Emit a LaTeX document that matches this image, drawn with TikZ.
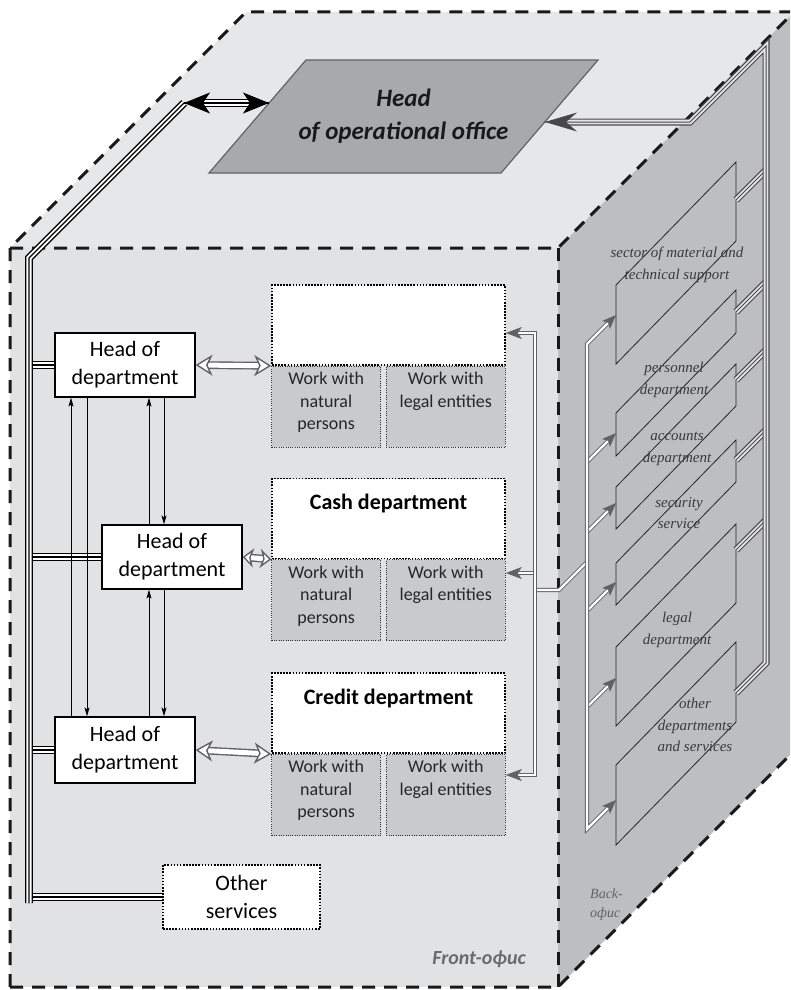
\documentclass[tikz,border=0pt]{standalone}
\usepackage{fontspec}
\setmainfont{Carlito}
\newfontfamily\timesfont{Liberation Serif}
\usetikzlibrary{arrows.meta, positioning}

\definecolor{topgray}{RGB}{230,231,232}
\definecolor{frontgray}{RGB}{225,226,228}
\definecolor{sidegray}{RGB}{189,190,193}
\definecolor{workgray}{RGB}{201,202,205}
\definecolor{headgray}{RGB}{167,169,172}
\definecolor{linegray}{RGB}{98,98,101}
\definecolor{busgray}{RGB}{72,72,74}
\definecolor{textgray}{RGB}{58,58,60}

\begin{document}
\begin{tikzpicture}[x=1pt, y=-1pt,
  head node/.style={rectangle, draw, fill=white, line width=1.2pt, minimum width=140pt, minimum height=64pt, align=center, font=\fontsize{22}{28}\selectfont},
  dept node/.style={rectangle, draw, fill=white, line width=1.6pt, dash pattern=on 1.6pt off 1.5pt, minimum width=233pt, minimum height=80pt},
  work node/.style={rectangle, draw=black!80, fill=workgray, line width=1pt, dash pattern=on 1pt off 1.3pt, minimum height=81pt},
  dept title/.style={anchor=north, inner sep=0pt, yshift=-16pt, font=\fontsize{22}{26}\selectfont\bfseries},
  work title/.style={anchor=north, inner sep=0pt, yshift=-6pt, align=center, text=black!85, font=\fontsize{18}{22.5}\selectfont},
  side node/.style={align=center, inner sep=0pt, text=textgray, font=\timesfont\itshape\fontsize{15}{21.5}\selectfont}]

  \path[use as bounding box, fill=white] (0,0) rectangle (790,990);
  \clip (0,0) rectangle (790,990);

  % cube
  \fill[topgray] (10,248) -- (246,12) -- (794,12) -- (558,248) -- cycle;
  \fill[sidegray] (558,248) -- (794,12) -- (794,751) -- (558,987) -- cycle;
  \fill[frontgray] (10,248) rectangle (558,987);
  \tikzstyle{cube edge}=[draw=black!90, line width=3pt, dash pattern=on 13pt off 9pt]
  \draw[cube edge] (10,987) -- (10,248) -- (246,12) -- (794,12);
  \draw[cube edge] (10,248) -- (558,248) -- (794,12);
  \draw[cube edge] (558,248) -- (558,987);
  \draw[cube edge] (10,987) -- (558,987) -- (794,751);

  % head of the office
  \filldraw[draw=linegray, fill=headgray, line width=1.2pt] (209,173) -- (306,60) -- (598,60) -- (501,173) -- cycle;
  \node[align=center, text=black!90, font=\fontsize{25}{33}\selectfont\bfseries\itshape] (head) at (403.5,116.5) {Head\\of operational office};
  \coordinate (hl) at (269,103);
  \coordinate (hr) at (545,122);

  % Front office
  \node[head node] (h1) at (125,365) {Head of\\department};
  \node[head node] (h2) at (172,557) {Head of\\department};
  \node[head node, minimum height=66pt] (h3) at (125,750) {Head of\\department};

  \node[dept node] (d1) at (388.5,325) {};
  \node[work node, minimum width=109pt, anchor=north west, label={[work title]north:Work with\\natural\\persons}] (s1a) at (d1.south west) {};
  \node[work node, minimum width=119pt, anchor=north east, label={[work title]north:Work with\\legal entities}] (s1b) at (d1.south east) {};

  \node[dept node, below=112pt of d1, label={[dept title]north:Cash department}] (d2) {};
  \node[work node, minimum width=109pt, anchor=north west, label={[work title]north:Work with\\natural\\persons}] (s2a) at (d2.south west) {};
  \node[work node, minimum width=119pt, anchor=north east, label={[work title]north:Work with\\legal entities}] (s2b) at (d2.south east) {};

  \node[dept node, below=113pt of d2, label={[dept title]north:Credit department}] (d3) {};
  \node[work node, minimum width=109pt, anchor=north west, label={[work title]north:Work with\\natural\\persons}] (s3a) at (d3.south west) {};
  \node[work node, minimum width=119pt, anchor=north east, label={[work title]north:Work with\\legal entities}] (s3b) at (d3.south east) {};

  \node[dept node, minimum width=157pt, minimum height=64pt, align=center, font=\fontsize{22}{28}\selectfont] (os) at (241.5,897) {Other\\services};

  \node[anchor=east, inner sep=0pt, text=black!58, font=\fontsize{20}{24}\selectfont\bfseries\itshape] (front) at (526,959) {Front-офис};

  % Back office
  \tikzstyle{panel}=[draw=black!85, line width=0.8pt]
  \foreach \n/\yl/\h/\t/\m in {1/285/79/315/200, 2/413/43/433/312, 3/487/42/503/380, 4/563/42/582/460, 5/647/79/678/550, 6/765/80/800/693}{
    \draw[panel] (616,\yl) -- (736,\yl-123) -- (736,\yl-123+\h) -- (616,\yl+\h) -- cycle;
    \coordinate (in\n) at (616,\t);
    \coordinate (from\n) at (587,\t+29);
    \coordinate (out\n) at (736,\m);
  }
  \node[side node] (p1) at (677,265) {sector of material and\\technical support};
  \node[side node] (p2) at (674,380) {personnel\\department};
  \node[side node] (p3) at (677,449) {accounts\\department};
  \node[side node] (p4) at (679,513) {security\\service};
  \node[side node] (p5) at (677,630) {legal\\department};
  \node[side node] (p6) at (695,725) {other\\departments\\and services};
  \node[anchor=west, inner sep=0pt, align=left, text=black!62, font=\timesfont\itshape\fontsize{14}{19}\selectfont] (back) at (590,905) {Back-\\офис};

  % heads and the left bus
  \tikzstyle{triple}=[draw=black, line width=1.3pt, double=white, double distance=5.2pt, postaction={draw=black, line width=1.2pt, -}]
  \coordinate (bus) at (29,0);
  \coordinate (tl) at (184,103);
  \draw[triple] (h1.west -| bus) -- (h1.west);
  \draw[triple] (h2.west -| bus) -- (h2.west);
  \draw[triple] (h3.west -| bus) -- (h3.west);
  \draw[triple] (os.west -| bus) -- (os.west);
  \draw[triple] (29,903) -- (29,258) -- (tl);
  \draw[triple, {Stealth[length=26pt, width=21pt, inset=7pt]}-{Stealth[length=26pt, width=21pt, inset=7pt]}] (tl) -- (hl);

  \tikzstyle{thin arrow}=[draw=black, line width=0.9pt, -{Stealth[length=9pt, width=5pt, inset=2pt]}]
  \coordinate (x1) at (71,0);
  \coordinate (x2) at (87,0);
  \coordinate (x3) at (149,0);
  \coordinate (x4) at (164,0);
  \draw[thin arrow] (h3.north -| x1) -- (h1.south -| x1);
  \draw[thin arrow] (h1.south -| x2) -- (h3.north -| x2);
  \draw[thin arrow] (h2.north -| x3) -- (h1.south -| x3);
  \draw[thin arrow] (h1.south -| x4) -- (h2.north -| x4);
  \draw[thin arrow] (h3.north -| x3) -- (h2.south -| x3);
  \draw[thin arrow] (h2.south -| x4) -- (h3.north -| x4);

  \tikzstyle{hollow}=[draw=linegray, line width=1.4pt, double=white, double distance=5pt]
  \draw[hollow, arrows={Stealth[length=17pt, width=21pt, inset=5pt, fill=white, line width=1.4pt]-Stealth[length=17pt, width=21pt, inset=5pt, fill=white, line width=1.4pt]}] (h1.east) -- (d1.south west);
  \draw[hollow, arrows={Stealth[length=11pt, width=19pt, inset=3pt, fill=white, line width=1.4pt]-Stealth[length=11pt, width=19pt, inset=3pt, fill=white, line width=1.4pt]}] (h2.east) -- (d2.south west);
  \draw[hollow, arrows={Stealth[length=17pt, width=21pt, inset=5pt, fill=white, line width=1.4pt]-Stealth[length=17pt, width=21pt, inset=5pt, fill=white, line width=1.4pt]}] (h3.east) -- (d3.south west);

  % front and back buses
  \tikzstyle{gray line}=[draw=linegray, line width=1pt, double=white, double distance=2.2pt]
  \coordinate (b1) at (535,333);
  \coordinate (b2) at (535,573);
  \coordinate (b3) at (535,775);
  \draw[gray line] (535,590) -- (559,590) -- (587,562);
  \draw[gray line, -{Stealth[length=16pt, width=12pt, inset=4pt]}] (b2) -- (b2 -| s2b.east);
  \draw[gray line, {Stealth[length=16pt, width=12pt, inset=4pt]}-{Stealth[length=16pt, width=12pt, inset=4pt]}] (b1 -| d1.east) -- (b1) -- (b3) -- (b3 -| s3b.east);

  \foreach \n in {2,...,5}
    \draw[gray line, -{Stealth[length=14pt, width=11pt, inset=3pt]}] (from\n) -- (in\n);
  \draw[gray line, {Stealth[length=14pt, width=11pt, inset=3pt]}-{Stealth[length=14pt, width=11pt, inset=3pt]}] (in1) -- (from1) -- (from6) -- (in6);

  \tikzstyle{dark triple}=[draw=busgray, line width=1.2pt, double=sidegray!40!white, double distance=4.6pt, postaction={draw=busgray, line width=1pt, -}]
  \coordinate (tr) at (690,122);
  \foreach \n in {1,...,5}
    \draw[dark triple] (out\n) -- ++(30,-30);
  \draw[dark triple, -{Stealth[length=32pt, width=19pt, inset=11pt]}] (out6) -- (766,663) -- (766,46) -- (tr) -- (hr);

\end{tikzpicture}
\end{document}
